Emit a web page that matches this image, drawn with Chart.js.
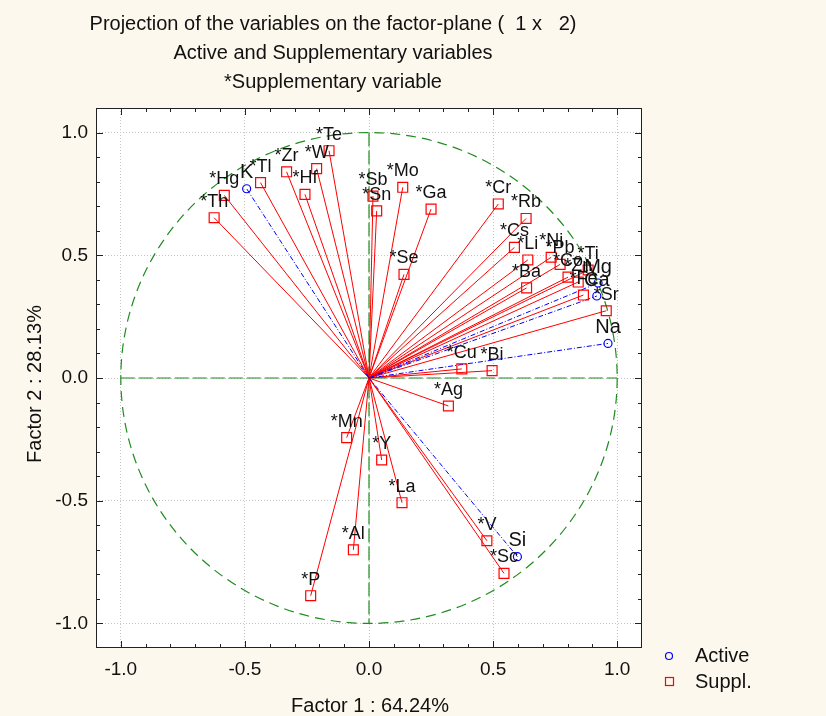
<!DOCTYPE html>
<html>
<head>
<meta charset="utf-8">
<script src="https://cdn.jsdelivr.net/npm/chart.js@4.4.1/dist/chart.umd.min.js"></script>
<style>
	html, body { margin: 0; padding: 0; background: #fdf8ee; }
	#chart { display: block; }
</style>
</head>
<body>
<canvas id="chart" width="826" height="716"></canvas>
<script>
// active variables (blue circles)
const activeNames = ["K", "Na", "Si", "Ca", "Mg"];
const activeX = [-0.493, 0.963, 0.598, 0.918, 0.923];
const activeY = [0.771, 0.141, -0.728, 0.334, 0.387];

// supplementary variables (red squares)
const supplNames = ["*Te", "*W", "*Zr", "*Hf", "*Tl", "*Hg", "*Th", "*Sb", "*Sn", "*Mo", "*Ga", "*Se",
	"*Cr", "*Rb", "*Cs", "*Li", "*Ba", "*Ni", "*Pb", "*Co", "*Zn", "*Ti", "*Fe", "*Sr",
	"*Cu", "*Bi", "*Ag", "*Mn", "*Y", "*La", "*V", "*Sc", "*Al", "*P"];
const supplX = [-0.161, -0.211, -0.332, -0.258, -0.437, -0.583, -0.624, 0.016, 0.031, 0.136, 0.250, 0.141,
	0.521, 0.633, 0.586, 0.640, 0.635, 0.734, 0.770, 0.802, 0.843, 0.883, 0.864, 0.956,
	0.374, 0.496, 0.320, -0.090, 0.051, 0.133, 0.475, 0.544, -0.063, -0.235];
const supplY = [0.926, 0.853, 0.840, 0.748, 0.796, 0.744, 0.653, 0.741, 0.681, 0.777, 0.688, 0.422,
	0.709, 0.650, 0.532, 0.481, 0.367, 0.492, 0.463, 0.411, 0.391, 0.440, 0.338, 0.274,
	0.037, 0.030, -0.114, -0.243, -0.334, -0.508, -0.663, -0.796, -0.700, -0.887];

const axisTicks = [-1.0, -0.5, 0.0, 0.5, 1.0];
const titleLines = [
	"Projection of the variables on the factor-plane (  1 x   2)",
	"Active and Supplementary variables",
	"*Supplementary variable"
];
const xTitle = "Factor 1 : 64.24%";
const yTitle = "Factor 2 : 28.13%";

const FONT = "'Liberation Sans', Arial, sans-serif";
const GREEN = "#1e8c1e";

function points(xs, ys) {
	return xs.map((x, i) => ({ x: x, y: ys[i] }));
}

// origin -> point segments, separated by gaps
function rays(xs, ys) {
	const out = [];
	xs.forEach((x, i) => {
		out.push({ x: 0, y: 0 }, { x: x, y: ys[i] }, { x: null, y: null });
	});
	return out;
}

const decorPlugin = {
	id: "decor",
	beforeDraw(chart) {
		const { ctx, chartArea: a } = chart;
		ctx.save();
		ctx.fillStyle = "#fdf8ee";
		ctx.fillRect(0, 0, chart.width, chart.height);
		ctx.fillStyle = "#ffffff";
		ctx.fillRect(a.left, a.top, a.right - a.left, a.bottom - a.top);
		ctx.restore();
	},
	beforeDatasetsDraw(chart) {
		const { ctx } = chart;
		const xs = chart.scales.x, ys = chart.scales.y;
		const cx = xs.getPixelForValue(0), cy = ys.getPixelForValue(0);
		ctx.save();
		ctx.strokeStyle = GREEN;
		ctx.lineWidth = 1.2;
		// unit circle
		ctx.setLineDash([10, 6]);
		ctx.beginPath();
		ctx.ellipse(cx, cy, xs.getPixelForValue(1) - cx, cy - ys.getPixelForValue(1), 0, 0, Math.PI * 2);
		ctx.stroke();
		// axes through the origin
		ctx.setLineDash([14, 4]);
		ctx.beginPath();
		ctx.moveTo(xs.getPixelForValue(-1), cy);
		ctx.lineTo(xs.getPixelForValue(1), cy);
		ctx.moveTo(cx, ys.getPixelForValue(1));
		ctx.lineTo(cx, ys.getPixelForValue(-1));
		ctx.stroke();
		ctx.restore();
	},
	afterDatasetsDraw(chart) {
		const { ctx } = chart;
		ctx.save();
		ctx.textAlign = "center";
		ctx.textBaseline = "middle";
		ctx.fillStyle = "#111";
		const drawLabels = (names, dsIndex, size) => {
			ctx.font = size + "px " + FONT;
			const meta = chart.getDatasetMeta(dsIndex);
			meta.data.forEach((el, i) => {
				ctx.fillText(names[i], el.x, el.y - 16);
			});
		};
		drawLabels(supplNames, 1, 18);
		drawLabels(activeNames, 0, 20);
		ctx.restore();
	},
	afterDraw(chart) {
		const { ctx, chartArea: a } = chart;
		const xs = chart.scales.x, ys = chart.scales.y;
		ctx.save();
		// frame
		ctx.strokeStyle = "#222";
		ctx.lineWidth = 1;
		ctx.strokeRect(a.left + 0.5, a.top + 0.5, a.right - a.left - 1, a.bottom - a.top - 1);
		// inward tick marks, minor every 0.1
		ctx.beginPath();
		for (let k = -10; k <= 10; k++) {
			const v = k / 10;
			const len = k % 5 === 0 ? 7 : 4;
			const px = Math.round(xs.getPixelForValue(v)) + 0.5;
			const py = Math.round(ys.getPixelForValue(v)) + 0.5;
			ctx.moveTo(px, a.bottom); ctx.lineTo(px, a.bottom - len);
			ctx.moveTo(px, a.top); ctx.lineTo(px, a.top + len);
			ctx.moveTo(a.left, py); ctx.lineTo(a.left + len, py);
			ctx.moveTo(a.right, py); ctx.lineTo(a.right - len, py);
		}
		ctx.stroke();

		ctx.fillStyle = "#111";
		ctx.textAlign = "center";
		ctx.textBaseline = "middle";
		ctx.font = "20px " + FONT;
		titleLines.forEach((t, i) => ctx.fillText(t, 333, 24 + i * 29));
		ctx.fillText(xTitle, 370, 706);
		ctx.save();
		ctx.translate(35, 384);
		ctx.rotate(-Math.PI / 2);
		ctx.fillText(yTitle, 0, 0);
		ctx.restore();

		// legend
		ctx.textAlign = "left";
		ctx.fillText("Active", 695, 656);
		ctx.fillText("Suppl.", 695, 682);
		ctx.lineWidth = 1.2;
		ctx.strokeStyle = "#0000ff";
		ctx.beginPath();
		ctx.arc(669, 656, 3.5, 0, Math.PI * 2);
		ctx.stroke();
		ctx.strokeStyle = "#ff0000";
		ctx.strokeRect(665.5, 677.5, 8, 8);
		ctx.restore();
	}
};

const tickFont = { family: FONT, size: 19 };

new Chart(document.getElementById("chart"), {
	type: "scatter",
	data: {
		datasets: [
			{
				data: points(activeX, activeY),
				pointStyle: "circle",
				pointRadius: 4,
				pointBorderWidth: 1.2,
				pointBorderColor: "#0000ff",
				pointBackgroundColor: "rgba(0,0,0,0)",
				order: 1
			},
			{
				data: points(supplX, supplY),
				pointStyle: "rect",
				pointRadius: 7,
				pointBorderWidth: 1.2,
				pointBorderColor: "#ff0000",
				pointBackgroundColor: "rgba(0,0,0,0)",
				order: 2
			},
			{
				data: rays(activeX, activeY),
				showLine: true,
				spanGaps: false,
				pointRadius: 0,
				borderColor: "#0000ff",
				borderWidth: 1,
				borderDash: [5, 2, 1, 2],
				order: 3
			},
			{
				data: rays(supplX, supplY),
				showLine: true,
				spanGaps: false,
				pointRadius: 0,
				borderColor: "#ff0000",
				borderWidth: 1,
				order: 4
			}
		]
	},
	options: {
		responsive: false,
		animation: false,
		layout: { padding: { top: 108, right: 184, left: 0, bottom: 0 } },
		plugins: { legend: { display: false }, tooltip: { enabled: false }, title: { display: false } },
		scales: {
			x: {
				type: "linear",
				min: -1.1,
				max: 1.1,
				afterBuildTicks: (s) => { s.ticks = axisTicks.map((v) => ({ value: v })); },
				afterFit: (s) => { s.height = 68; },
				ticks: { callback: (v) => Number(v).toFixed(1), font: tickFont, color: "#111", padding: 10, maxRotation: 0, autoSkip: false },
				grid: { color: "#c4c4c4", drawTicks: false },
				border: { display: false, dash: [1, 2] }
			},
			y: {
				type: "linear",
				min: -1.1,
				max: 1.1,
				afterBuildTicks: (s) => { s.ticks = axisTicks.map((v) => ({ value: v })); },
				afterFit: (s) => { s.width = 96; },
				ticks: { callback: (v) => Number(v).toFixed(1), font: tickFont, color: "#111", padding: 8, autoSkip: false },
				grid: { color: "#c4c4c4", drawTicks: false },
				border: { display: false, dash: [1, 2] }
			}
		}
	},
	plugins: [decorPlugin]
});
</script>
</body>
</html>
